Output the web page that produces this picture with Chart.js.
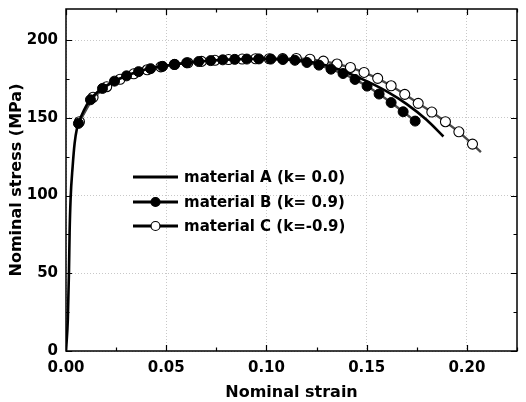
<!DOCTYPE html>
<html>
<head>
<meta charset="utf-8">
<title>Nominal stress vs nominal strain</title>
<script src="https://cdn.jsdelivr.net/npm/chart.js@4.4.1/dist/chart.umd.min.js"></script>
<style>
  html, body { margin: 0; padding: 0; background: #fff; }
  #wrap { width: 526px; height: 402px; }
</style>
</head>
<body>
<div id="wrap"><canvas id="stress-chart" width="526" height="402"></canvas></div>
<script>
// material A: continuous curve (elastic part + plastic hardening + softening)
const strainA = [0, 0.0009, 0.0015, 0.0018, 0.0023, 0.0033, 0.0043, 0.0055, 0.0062, 0.009,
                 0.012, 0.016, 0.020, 0.025, 0.030, 0.035, 0.040, 0.050, 0.060, 0.070,
                 0.080, 0.090, 0.100, 0.110, 0.120, 0.130, 0.140, 0.150, 0.160, 0.170,
                 0.180, 0.1883];
const stressA = [0, 20, 52, 76, 98, 118.5, 133.6, 143.5, 146.4, 155,
                 161.6, 167, 170.5, 174.2, 177, 179.4, 181.2, 183.6, 185.3, 186.6,
                 187.4, 187.8, 187.9, 187.5, 186.4, 183.6, 179.2, 173.6, 167, 158.8,
                 148.6, 138];

// material B: measured points (filled circles)
const strainB = [0.0062, 0.0122, 0.0182, 0.0242, 0.0302, 0.0362, 0.0422, 0.0482, 0.0542, 0.0602,
                 0.0662, 0.0722, 0.0782, 0.0842, 0.0902, 0.0962, 0.1022, 0.1082, 0.1142, 0.1202,
                 0.1262, 0.1322, 0.1382, 0.1442, 0.1502, 0.1562, 0.1622, 0.1682, 0.1742];
const stressB = [146.4, 161.6, 168.9, 173.6, 177.0, 179.7, 181.6, 183.1, 184.4, 185.4,
                 186.2, 186.8, 187.3, 187.6, 187.8, 187.9, 187.8, 187.5, 187.0, 185.6,
                 183.9, 181.3, 178.5, 174.7, 170.4, 165.3, 159.8, 153.9, 147.9];

// material C: measured points (open circles), last entry is the end of the line
const strainC = [0.0067, 0.0135, 0.0203, 0.0270, 0.0338, 0.0405, 0.0473, 0.0541, 0.0608, 0.0676,
                 0.0743, 0.0811, 0.0879, 0.0946, 0.1014, 0.1081, 0.1149, 0.1217, 0.1284, 0.1352,
                 0.1419, 0.1487, 0.1555, 0.1622, 0.1690, 0.1757, 0.1825, 0.1893, 0.1960, 0.2028,
                 0.2070];
const stressC = [147.5, 163.2, 170.0, 174.8, 178.3, 180.9, 182.8, 184.3, 185.4, 186.3,
                 187.0, 187.5, 187.8, 188.0, 188.0, 188.1, 188.2, 187.7, 186.5, 184.6,
                 182.4, 179.2, 175.4, 170.6, 165.1, 159.3, 153.7, 147.5, 141.0, 133.1,
                 128.0];

const seriesNames = ["material A (k= 0.0)", "material B (k= 0.9)", "material C (k=-0.9)"];
const strainTicks = [0, 0.05, 0.10, 0.15, 0.20];
const stressTicks = [0, 50, 100, 150, 200];

const FONT = "'DejaVu Sans', 'Liberation Sans', Arial, sans-serif";

function toPoints(xs, ys) {
    return xs.map((x, i) => ({ x: x, y: ys[i] }));
}

// box around the plot, inward ticks on all four sides, and the legend
const framePlugin = {
    id: "frame",
    afterDraw(chart) {
        const { ctx, chartArea: a, scales: { x, y } } = chart;
        ctx.save();
        ctx.strokeStyle = "#000";
        ctx.lineWidth = 1.5;
        ctx.strokeRect(a.left, a.top, a.right - a.left, a.bottom - a.top);

        ctx.beginPath();
        const xStep = strainTicks[1] - strainTicks[0];
        strainTicks.forEach(v => {
            [[v, 6], [v + xStep / 2, 3.5]].forEach(([val, len]) => {
                if (val > x.max) return;
                const px = Math.round(x.getPixelForValue(val)) + 0.5;
                ctx.moveTo(px, a.bottom); ctx.lineTo(px, a.bottom - len);
                ctx.moveTo(px, a.top); ctx.lineTo(px, a.top + len);
            });
        });
        const yStep = stressTicks[1] - stressTicks[0];
        stressTicks.forEach(v => {
            [[v, 6], [v + yStep / 2, 3.5]].forEach(([val, len]) => {
                if (val > y.max) return;
                const py = Math.round(y.getPixelForValue(val)) + 0.5;
                ctx.moveTo(a.left, py); ctx.lineTo(a.left + len, py);
                ctx.moveTo(a.right, py); ctx.lineTo(a.right - len, py);
            });
        });
        ctx.lineWidth = 1.2;
        ctx.stroke();

        // legend
        const x0 = a.left + 67, x1 = a.left + 112;
        const rows = [a.top + 168, a.top + 193, a.top + 217];
        ctx.font = "bold 15px " + FONT;
        ctx.textBaseline = "middle";
        ctx.fillStyle = "#000";
        rows.forEach((ry, i) => {
            ctx.beginPath();
            ctx.lineWidth = 3;
            ctx.strokeStyle = "#000";
            ctx.moveTo(x0, ry); ctx.lineTo(x1, ry);
            ctx.stroke();
            if (i > 0) {
                ctx.beginPath();
                ctx.arc((x0 + x1) / 2, ry, 4.5, 0, Math.PI * 2);
                ctx.fillStyle = i === 1 ? "#000" : "#fff";
                ctx.fill();
                ctx.lineWidth = 1.2;
                ctx.stroke();
            }
            ctx.fillStyle = "#000";
            ctx.fillText(seriesNames[i], x1 + 6, ry + 1);
        });
        ctx.restore();
    }
};

const radiusC = strainC.map((_, i) => i === strainC.length - 1 ? 0 : 5);

new Chart(document.getElementById("stress-chart"), {
    type: "line",
    data: {
        datasets: [
            {
                label: seriesNames[0],
                data: toPoints(strainA, stressA),
                borderColor: "#000",
                borderWidth: 2.6,
                pointRadius: 0,
                cubicInterpolationMode: "monotone",
                order: 0
            },
            {
                label: seriesNames[1],
                data: toPoints(strainB, stressB),
                borderColor: "#4a4a4a",
                borderWidth: 2.4,
                pointRadius: 5,
                pointBackgroundColor: "#000",
                pointBorderColor: "#000",
                pointBorderWidth: 1,
                order: 1
            },
            {
                label: seriesNames[2],
                data: toPoints(strainC, stressC),
                borderColor: "#4a4a4a",
                borderWidth: 2.4,
                pointRadius: radiusC,
                pointBackgroundColor: "#fff",
                pointBorderColor: "#000",
                pointBorderWidth: 1.1,
                order: 2
            }
        ]
    },
    options: {
        responsive: false,
        animation: false,
        layout: { padding: { top: 9, right: 9, left: 0, bottom: 0 } },
        plugins: {
            legend: { display: false },
            tooltip: { enabled: false }
        },
        scales: {
            x: {
                type: "linear",
                min: 0,
                max: 0.225,
                afterBuildTicks: scale => { scale.ticks = strainTicks.map(v => ({ value: v })); },
                afterFit: scale => { scale.height = 51; },
                ticks: {
                    color: "#000",
                    padding: 8,
                    font: { family: FONT, size: 15, weight: "bold" },
                    callback: v => v.toFixed(2)
                },
                grid: { color: "#c8c8c8", lineWidth: 1, drawTicks: false },
                border: { display: false, dash: [1, 2] },
                title: {
                    display: true,
                    text: "Nominal strain",
                    color: "#000",
                    font: { family: FONT, size: 16, weight: "bold" },
                    padding: { top: 0, bottom: 0 }
                }
            },
            y: {
                type: "linear",
                min: 0,
                max: 220,
                afterBuildTicks: scale => { scale.ticks = stressTicks.map(v => ({ value: v })); },
                afterFit: scale => {
                    scale.width = 66;
                    scale.paddingTop = 0;
                    scale.paddingBottom = 0;
                },
                ticks: {
                    color: "#000",
                    padding: 8,
                    font: { family: FONT, size: 15, weight: "bold" }
                },
                grid: { color: "#c8c8c8", lineWidth: 1, drawTicks: false },
                border: { display: false, dash: [1, 2] },
                title: {
                    display: true,
                    text: "Nominal stress (MPa)",
                    color: "#000",
                    font: { family: FONT, size: 16, weight: "bold" },
                    padding: { top: 7, bottom: 0 }
                }
            }
        }
    },
    plugins: [framePlugin]
});
</script>
</body>
</html>
